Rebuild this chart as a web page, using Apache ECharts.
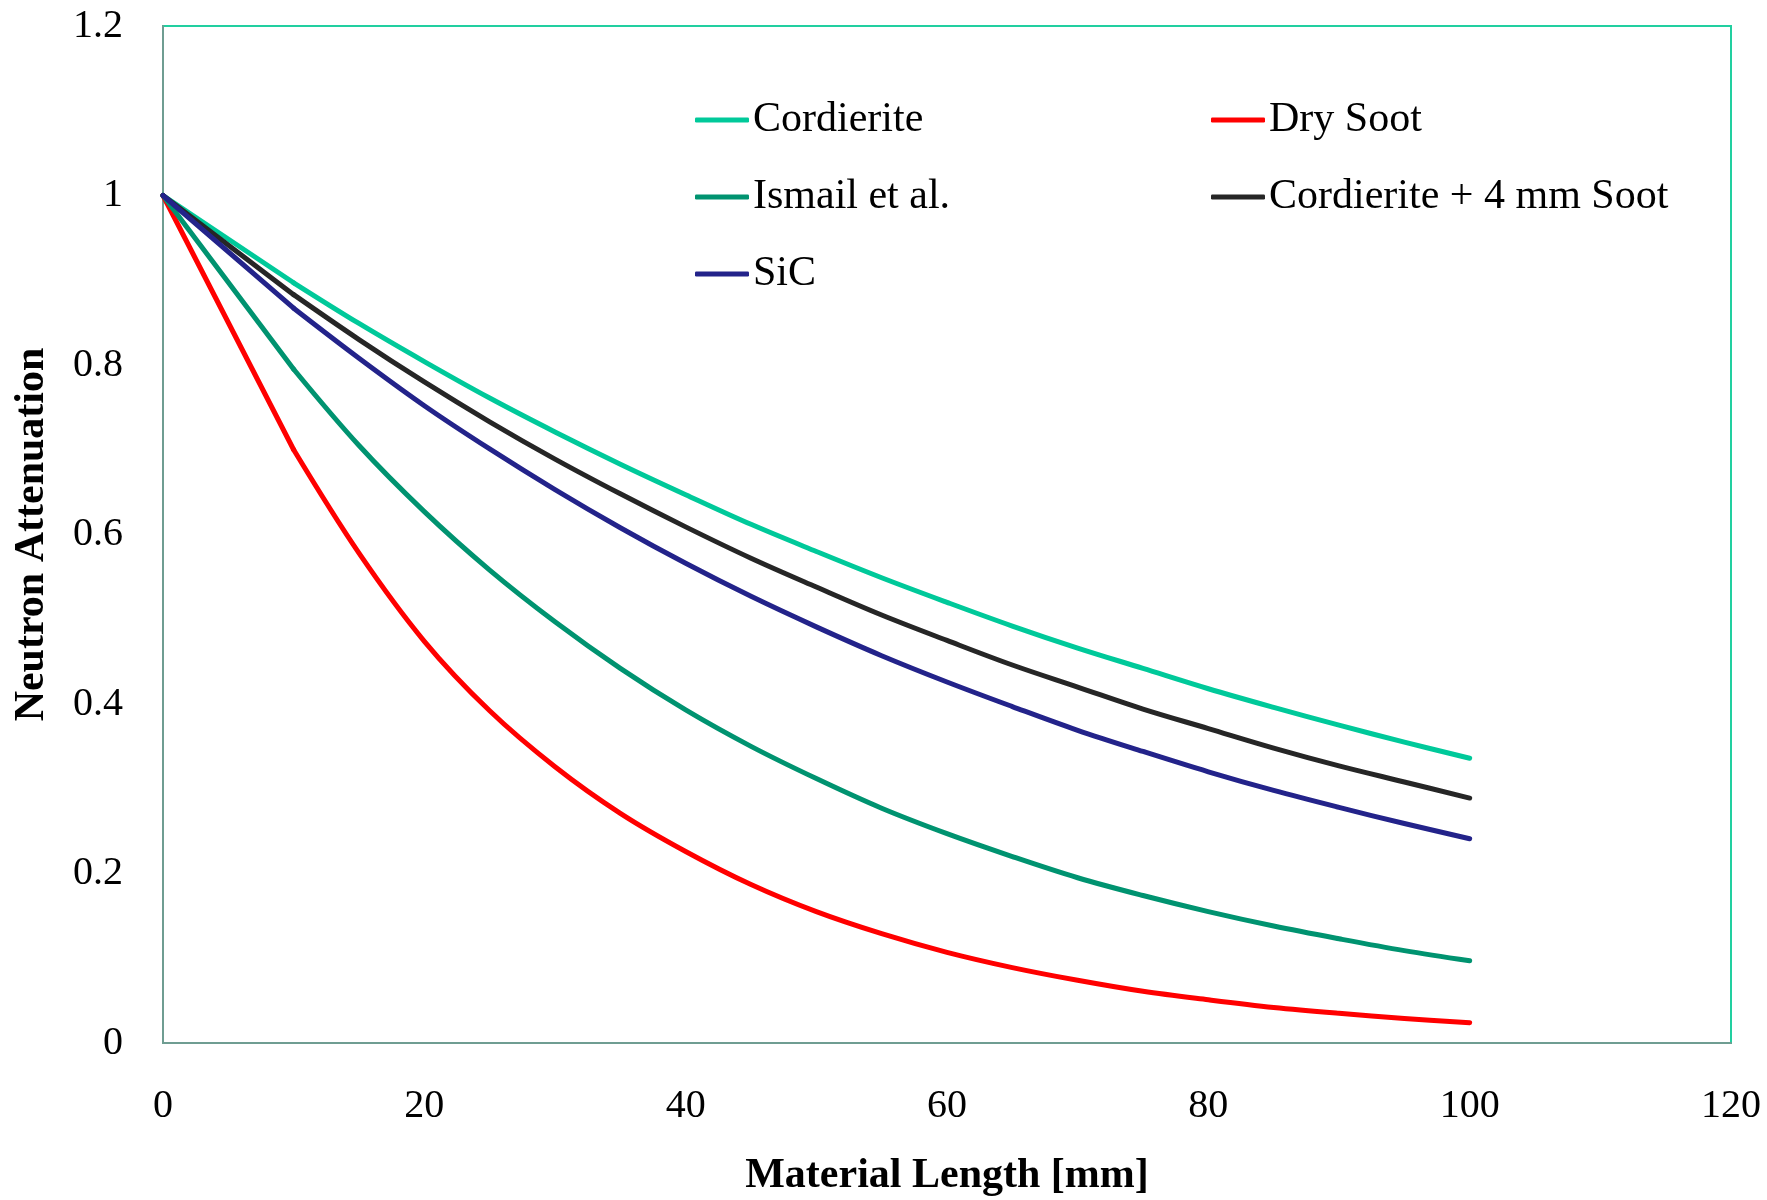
<!DOCTYPE html>
<html>
<head>
<meta charset="utf-8">
<title>Neutron Attenuation vs Material Length</title>
<script src="https://cdn.jsdelivr.net/npm/echarts@6/dist/echarts.min.js"></script>
<style>
  html, body { margin: 0; padding: 0; background: #ffffff; }
  #chart { width: 1767px; height: 1200px; }
</style>
</head>
<body>
<div id="chart"></div>
<script>
// Material length in mm
const lengths = [0, 10, 15, 20, 25, 30, 35, 40, 45, 50, 55, 60, 65, 70, 75, 80, 85, 90, 95, 100];

// Transmitted fraction for each material
const cordierite = [1, 0.897, 0.849, 0.804, 0.761, 0.721, 0.683, 0.647, 0.612, 0.580, 0.549, 0.520, 0.492, 0.466, 0.442, 0.418, 0.396, 0.375, 0.355, 0.336];
const drySoot = [1, 0.700, 0.578, 0.474, 0.392, 0.326, 0.271, 0.226, 0.187, 0.155, 0.129, 0.107, 0.089, 0.074, 0.061, 0.051, 0.042, 0.035, 0.029, 0.024];
const ismail = [1, 0.795, 0.705, 0.627, 0.558, 0.497, 0.442, 0.393, 0.350, 0.312, 0.277, 0.247, 0.220, 0.195, 0.174, 0.155, 0.138, 0.123, 0.109, 0.097];
const cordieriteSoot = [1, 0.883, 0.830, 0.780, 0.733, 0.689, 0.648, 0.609, 0.572, 0.538, 0.505, 0.475, 0.446, 0.420, 0.394, 0.371, 0.348, 0.327, 0.308, 0.289];
const sic = [1, 0.867, 0.808, 0.752, 0.701, 0.653, 0.608, 0.566, 0.527, 0.491, 0.457, 0.426, 0.397, 0.369, 0.344, 0.320, 0.298, 0.278, 0.259, 0.241];

const seriesNames = ['Cordierite', 'Dry Soot', 'Ismail et al.', 'Cordierite + 4 mm Soot', 'SiC'];
const seriesColors = ['#00c99a', '#ff0000', '#009370', '#262626', '#23238a'];
const seriesValues = [cordierite, drySoot, ismail, cordieriteSoot, sic];

// Axis ticks
const xTicks = [0, 20, 40, 60, 80, 100, 120];
const yTicks = [0, 0.2, 0.4, 0.6, 0.8, 1, 1.2];

const FONT = "'Liberation Serif', 'Times New Roman', serif";
const LINE_WIDTH = 5;

const chart = echarts.init(document.getElementById('chart'), null, { renderer: 'canvas' });

const toPairs = (vals) => lengths.map((x, i) => [x, vals[i]]);

const legendCommon = {
  orient: 'vertical',
  padding: 0,
  itemWidth: 54,
  itemHeight: 5,
  itemGap: 27,
  icon: 'roundRect',
  textStyle: { fontFamily: FONT, fontSize: 42, color: '#000', lineHeight: 50, padding: [0, 0, 0, -1] }
};

// Each curve: a straight first step (0 -> 10 mm) followed by a smoothed tail.
const series = [];
seriesNames.forEach((name, i) => {
  const pts = toPairs(seriesValues[i]);
  const style = { color: seriesColors[i], width: LINE_WIDTH, cap: 'round', join: 'round' };
  series.push({
    name: name, type: 'line', data: pts.slice(0, 2), symbol: 'none', smooth: false,
    color: seriesColors[i], lineStyle: style, itemStyle: { color: seriesColors[i] }, z: 2 + i
  });
  series.push({
    name: name, type: 'line', data: pts.slice(1), symbol: 'none', smooth: 0.35,
    color: seriesColors[i], lineStyle: style, itemStyle: { color: seriesColors[i] }, z: 2 + i
  });
});

chart.setOption({
  animation: false,
  backgroundColor: '#ffffff',
  grid: {
    left: 163,
    right: 36,
    top: 26,
    bottom: 157,
    outerBoundsMode: 'none',
    containLabel: false,
    show: true,
    borderColor: '#22cfa0',
    borderWidth: 2,
    backgroundColor: 'transparent'
  },
  legend: [
    Object.assign({}, legendCommon, {
      left: 695, top: 95,
      data: [seriesNames[0], seriesNames[2], seriesNames[4]]
    }),
    Object.assign({}, legendCommon, {
      left: 1211, top: 95,
      data: [seriesNames[1], seriesNames[3]]
    })
  ],
  xAxis: {
    type: 'value',
    min: xTicks[0],
    max: xTicks[xTicks.length - 1],
    interval: xTicks[1] - xTicks[0],
    name: 'Material Length [mm]',
    nameLocation: 'middle',
    nameGap: 112,
    nameTextStyle: { fontFamily: FONT, fontSize: 42, fontWeight: 'bold', color: '#000' },
    axisLine: { show: true, lineStyle: { color: '#6f9d92', width: 2 } },
    axisTick: { show: false },
    splitLine: { show: false },
    axisLabel: { fontFamily: FONT, fontSize: 40, color: '#000', margin: 43 }
  },
  yAxis: {
    type: 'value',
    min: yTicks[0],
    max: yTicks[yTicks.length - 1],
    interval: 0.2,
    name: 'Neutron Attenuation',
    nameLocation: 'middle',
    nameGap: 110,
    nameRotate: 90,
    nameTextStyle: { fontFamily: FONT, fontSize: 42, fontWeight: 'bold', color: '#000' },
    axisLine: { show: true, lineStyle: { color: '#6f9d92', width: 2 } },
    axisTick: { show: false },
    splitLine: { show: false },
    axisLabel: {
      fontFamily: FONT, fontSize: 40, color: '#000', margin: 40,
      formatter: (v) => String(Math.round(v * 10) / 10)
    }
  },
  series: series
});
</script>
</body>
</html>
